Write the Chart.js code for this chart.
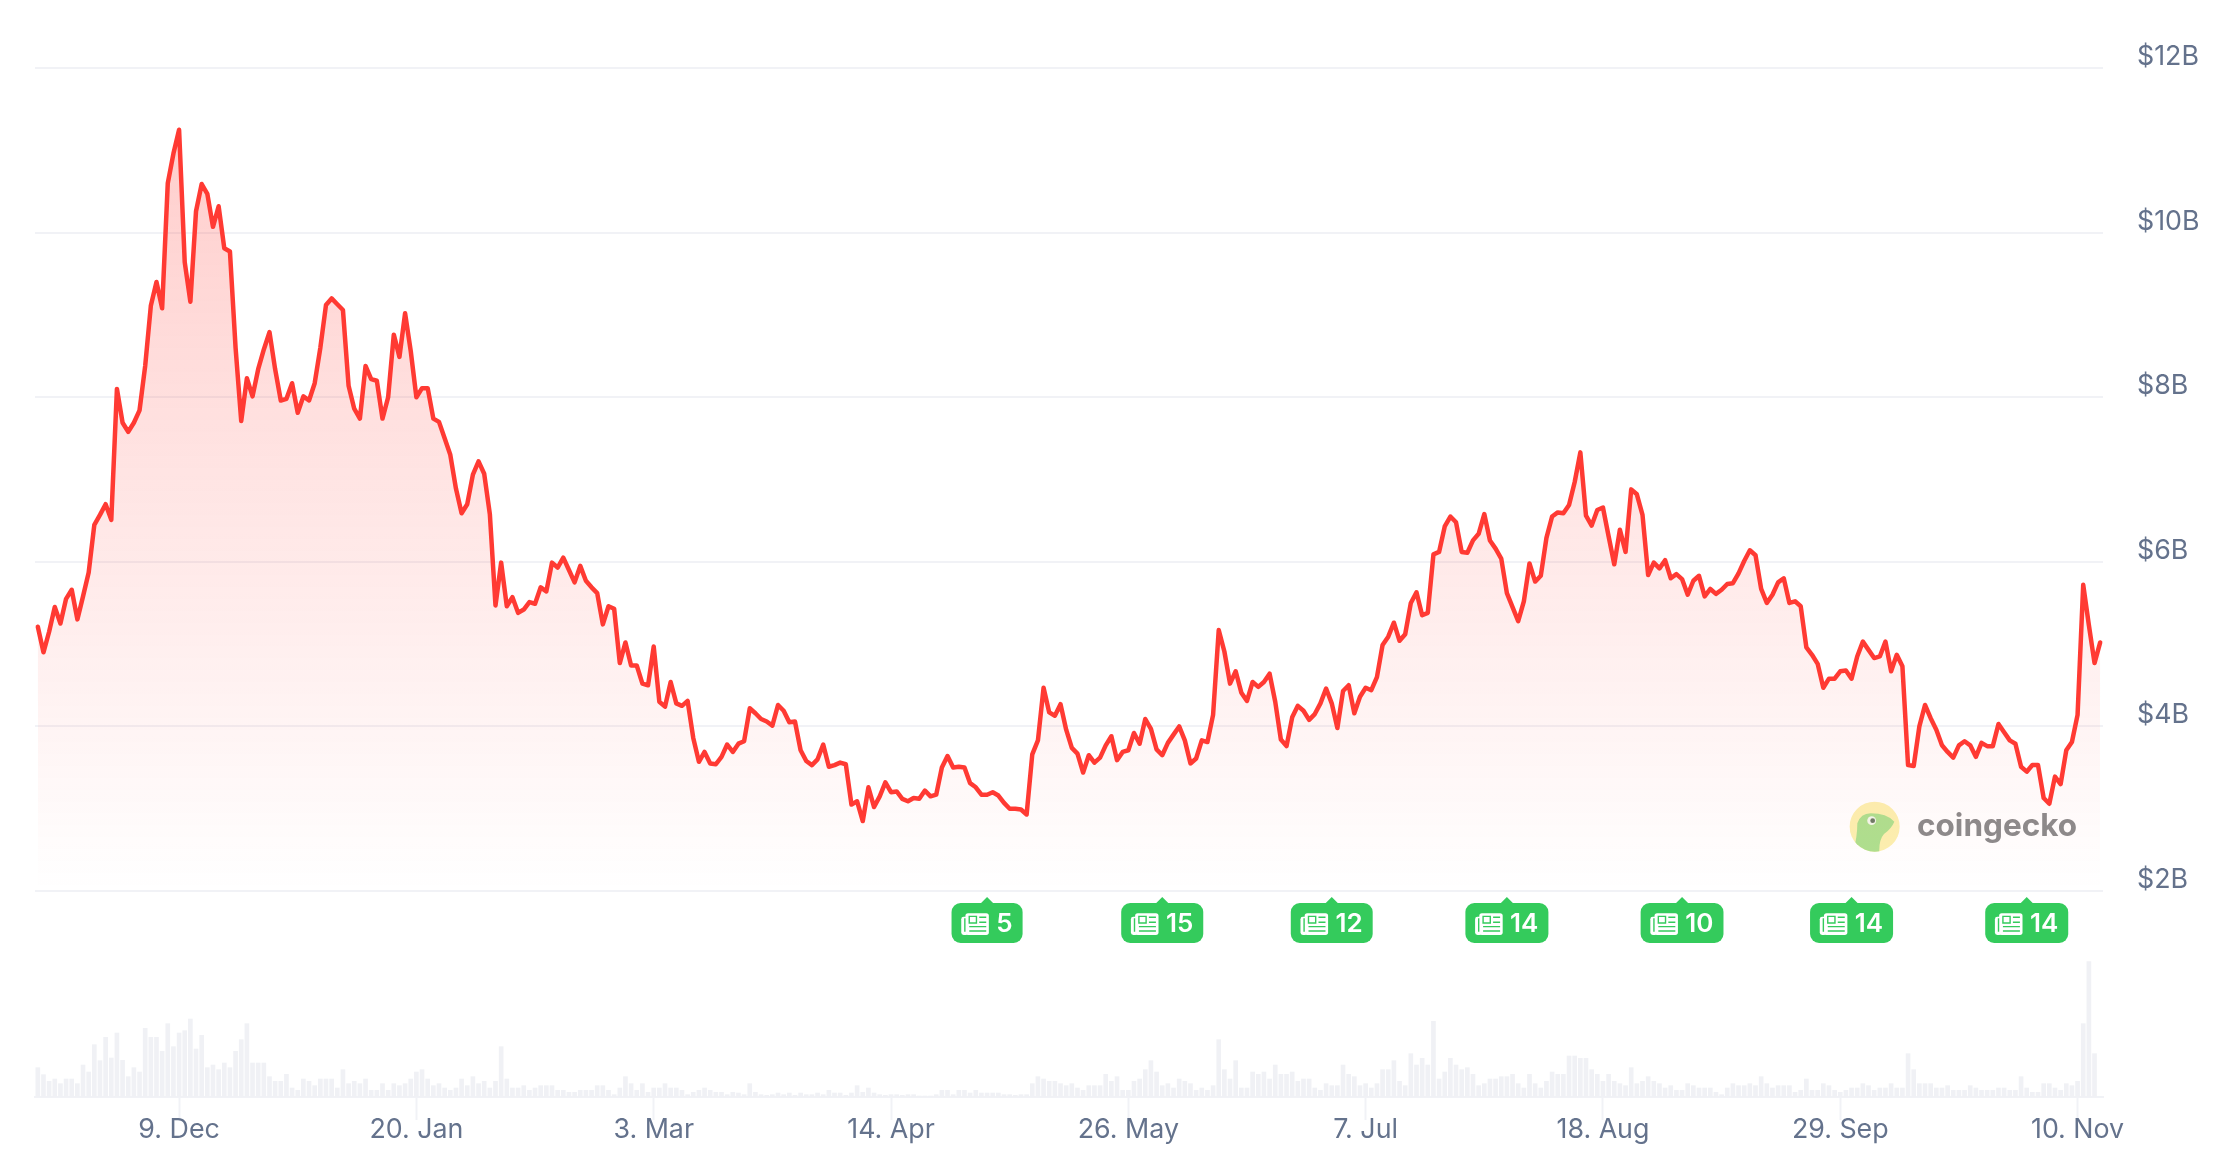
<!DOCTYPE html>
<html><head><meta charset="utf-8">
<script src="https://cdn.jsdelivr.net/npm/chart.js@4"></script>
<style>html,body{margin:0;padding:0;background:#fff}canvas{display:block}</style>
</head><body><canvas id="c" width="2214" height="1166"></canvas>
<script>
// daily price-side series, $B
const priceValues = [
5.21,4.90,5.15,5.45,5.25,5.55,5.66,5.30,5.58,5.87,6.45,6.57,6.70,6.51,8.10,7.69,7.58,7.69,7.84,8.38,
9.11,9.40,9.08,10.60,10.96,11.25,9.64,9.16,10.26,10.59,10.47,10.07,10.32,9.81,9.77,8.60,7.71,8.23,8.01,8.34,
8.58,8.79,8.34,7.96,7.98,8.17,7.81,8.01,7.96,8.17,8.60,9.12,9.20,9.13,9.06,8.14,7.86,7.74,8.38,8.22,
8.20,7.74,8.00,8.76,8.49,9.02,8.56,8.00,8.11,8.11,7.74,7.70,7.50,7.30,6.89,6.59,6.70,7.06,7.22,7.07,
6.58,5.47,5.99,5.46,5.57,5.38,5.42,5.51,5.49,5.69,5.64,5.99,5.93,6.05,5.90,5.75,5.95,5.77,5.69,5.62,
5.24,5.46,5.43,4.77,5.02,4.74,4.74,4.52,4.50,4.97,4.30,4.24,4.54,4.28,4.25,4.31,3.86,3.57,3.69,3.55,
3.54,3.63,3.78,3.69,3.79,3.82,4.22,4.16,4.09,4.06,4.01,4.26,4.19,4.05,4.06,3.71,3.58,3.53,3.60,3.78,
3.51,3.53,3.56,3.54,3.05,3.09,2.85,3.26,3.02,3.15,3.32,3.20,3.21,3.12,3.09,3.13,3.12,3.22,3.15,3.17,
3.50,3.64,3.50,3.51,3.50,3.31,3.26,3.17,3.17,3.20,3.16,3.07,3.00,3.00,2.99,2.93,3.66,3.83,4.47,4.17,
4.13,4.27,3.96,3.74,3.67,3.44,3.65,3.56,3.62,3.77,3.88,3.59,3.69,3.71,3.92,3.79,4.09,3.97,3.72,3.65,
3.80,3.90,4.00,3.83,3.55,3.61,3.83,3.81,4.14,5.17,4.91,4.52,4.67,4.41,4.31,4.54,4.48,4.54,4.64,4.30,
3.84,3.76,4.11,4.25,4.19,4.08,4.15,4.28,4.46,4.28,3.98,4.43,4.50,4.16,4.36,4.47,4.44,4.60,4.99,5.09,
5.26,5.04,5.12,5.50,5.63,5.35,5.38,6.09,6.12,6.43,6.55,6.48,6.12,6.11,6.26,6.34,6.58,6.26,6.16,6.04,
5.62,5.45,5.28,5.52,5.98,5.76,5.83,6.29,6.55,6.60,6.59,6.69,6.97,7.33,6.56,6.44,6.63,6.66,6.31,5.97,
6.39,6.12,6.88,6.82,6.57,5.84,5.99,5.92,6.02,5.80,5.85,5.79,5.60,5.77,5.83,5.58,5.67,5.61,5.66,5.73,
5.74,5.86,6.01,6.14,6.08,5.67,5.50,5.60,5.75,5.80,5.50,5.52,5.46,4.96,4.87,4.76,4.47,4.58,4.58,4.67,
4.68,4.58,4.85,5.03,4.93,4.83,4.85,5.03,4.67,4.87,4.73,3.53,3.52,4.00,4.26,4.10,3.96,3.77,3.69,3.62,
3.77,3.82,3.77,3.63,3.80,3.76,3.76,4.03,3.93,3.83,3.79,3.51,3.45,3.53,3.53,3.13,3.06,3.39,3.30,3.71,
3.81,4.14,5.72,5.23,4.77,5.02];
// daily traded volume
const volumeValues = [
88,67,47,54,40,54,54,40,96,75,157,109,179,117,192,110,61,88,75,206,179,179,137,220,151,192,199,234,144,185,
88,96,82,102,88,137,172,220,102,102,102,61,47,47,68,27,20,54,47,34,54,54,54,27,82,40,47,40,54,20,
20,40,20,40,34,40,54,75,82,54,34,40,27,20,27,54,34,61,40,47,27,47,151,54,27,27,34,20,27,34,
34,34,20,20,14,14,20,20,20,34,34,20,7,27,61,40,20,40,14,27,27,40,27,27,20,7,14,20,27,20,
14,14,7,14,12,
7,40,14,7,5,7,12,7,12,5,12,7,7,12,7,20,12,12,5,12,34,14,27,12,7,5,7,7,5,7,
7,3,3,3,7,20,20,7,20,20,12,20,12,12,12,12,7,7,5,7,7,40,61,54,47,47,40,34,40,27,
20,34,34,34,68,47,61,20,20,47,54,82,109,75,34,40,27,54,47,40,20,27,20,34,172,82,54,109,27,27,
75,68,75,54,96,68,68,75,47,54,54,27,20,40,34,34,96,68,61,34,40,27,40,82,82,109,47,34,130,96,
116,96,227,54,75,116,96,82,88,68,
34,
40,54,54,61,61,68,40,27,68,40,27,47,75,68,68,123,123,116,116,82,68,47,68,47,40,34,88,40,47,61,
47,40,27,34,20,20,40,34,27,27,27,14,7,27,40,34,34,40,34,61,40,27,34,34,34,14,20,54,20,20,
40,34,20,14,20,27,27,40,34,20,27,27,40,27,27,130,82,40,40,40,27,27,34,20,20,20,34,27,20,20,
20,27,27,20,20,61,27,14,14,40,40,27,20,40,34,47,220,406,130,0];
const tickLabels = ["9. Dec","20. Jan","3. Mar","14. Apr","26. May","7. Jul","18. Aug","29. Sep","10. Nov"];
const yTickValues = [2,4,6,8,10,12];
const newsDates = ["1. May","1. Jun","1. Jul","1. Aug","1. Sep","1. Oct","1. Nov"];
const newsCounts = [5,15,12,14,10,14,14];
const monthNames = ["Jan","Feb","Mar","Apr","May","Jun","Jul","Aug","Sep","Oct","Nov","Dec"];
const categories = priceValues.map((_, i) => {
  const d = new Date(Date.UTC(2024, 10, 14 + i));
  return d.getUTCDate() + ". " + monthNames[d.getUTCMonth()];
});

const FONT = 'Inter, "Liberation Sans", sans-serif';
const TEXT = '#64728c', RULE = '#f1f2f6', VOLBAR = '#f0f1f5', RED = '#ff3a33', GREEN = '#34cb5c';
const Y_MIN = -0.503, VOL_MAX = 3087;

function newsIcon(ctx, x, y) {
  ctx.fillStyle = '#fff';
  ctx.beginPath(); ctx.roundRect(x + 4.2, y, 23.4, 21.7, 2.6); ctx.fill();
  ctx.beginPath(); ctx.roundRect(x, y + 3.6, 7, 18.1, 2.4); ctx.fill();
  ctx.strokeStyle = GREEN; ctx.lineWidth = 1.4;
  ctx.beginPath();
  ctx.moveTo(x + 3.6, y + 5); ctx.lineTo(x + 3.6, y + 18.5);
  ctx.rect(x + 8, y + 3.2, 7.2, 6.6);
  ctx.moveTo(x + 18, y + 4); ctx.lineTo(x + 25, y + 4);
  ctx.moveTo(x + 18, y + 9); ctx.lineTo(x + 25, y + 9);
  ctx.moveTo(x + 8, y + 13.4); ctx.lineTo(x + 25, y + 13.4);
  ctx.moveTo(x + 8, y + 17.8); ctx.lineTo(x + 25, y + 17.8);
  ctx.stroke();
}

const newsBadges = {
  id: 'newsBadges',
  afterDraw(chart) {
    const { ctx, scales: { x } } = chart;
    const top = 903, h = 40;
    ctx.save();
    ctx.font = '600 26px ' + FONT;
    ctx.textBaseline = 'middle';
    newsDates.forEach((date, k) => {
      const cx = x.getPixelForValue(categories.indexOf(date));
      const label = String(newsCounts[k]);
      const tw = ctx.measureText(label).width;
      const w = 9.7 + 27.6 + 7.4 + tw + 10;
      const left = cx - w / 2;
      ctx.fillStyle = GREEN;
      ctx.beginPath(); ctx.roundRect(left, top, w, h, 9); ctx.fill();
      ctx.beginPath(); ctx.moveTo(cx - 7, top + 1); ctx.lineTo(cx, top - 6); ctx.lineTo(cx + 7, top + 1); ctx.closePath(); ctx.fill();
      newsIcon(ctx, left + 9.7, top + 10.2);
      ctx.fillStyle = '#fff';
      ctx.fillText(label, left + 9.7 + 27.6 + 7.4, top + h / 2 + 1);
    });
    ctx.restore();
  }
};

const watermark = {
  id: 'watermark',
  beforeDatasetsDraw(chart) {
    const { ctx } = chart;
    const ox = 1820, oy = 780, s = 1 / 3;
    const X = v => ox + v * s, Y = v => oy + v * s;
    ctx.save();
    ctx.beginPath(); ctx.arc(X(164), Y(140), 25, 0, Math.PI * 2); ctx.closePath();
    ctx.fillStyle = '#fcf0b0'; ctx.fill(); ctx.clip();
    ctx.fillStyle = '#aee08f';
    ctx.beginPath();
    ctx.moveTo(X(100), Y(214));
    ctx.quadraticCurveTo(X(112), Y(170), X(112), Y(130));
    ctx.quadraticCurveTo(X(122), Y(100), X(152), Y(100));
    ctx.quadraticCurveTo(X(200), Y(100), X(223), Y(125));
    ctx.quadraticCurveTo(X(215), Y(145), X(192), Y(162));
    ctx.quadraticCurveTo(X(176), Y(180), X(178), Y(220));
    ctx.closePath(); ctx.fill();
    ctx.fillStyle = '#f4f7ec';
    ctx.beginPath(); ctx.arc(X(155), Y(122), 4.4, 0, Math.PI * 2); ctx.fill();
    ctx.fillStyle = '#6d7a66';
    ctx.beginPath(); ctx.arc(X(158), Y(122), 2.4, 0, Math.PI * 2); ctx.fill();
    ctx.restore();
    ctx.save();
    ctx.fillStyle = '#8b8b8c';
    ctx.font = '700 31.5px ' + FONT;
    ctx.textBaseline = 'alphabetic';
    ctx.fillText('coingecko', 1917, 836);
    ctx.restore();
  }
};

const fillGradient = (context) => {
  const { chart } = context;
  const y = chart.scales.y;
  const fallback = 'rgba(255,58,51,0.1)';
  if (!chart.chartArea || !y) return fallback;
  const a = y.getPixelForValue(12), b = y.getPixelForValue(2);
  if (!isFinite(a) || !isFinite(b)) return fallback;
  const g = chart.ctx.createLinearGradient(0, a, 0, b);
  g.addColorStop(0, 'rgba(255,58,51,0.27)');
  g.addColorStop(1, 'rgba(255,58,51,0)');
  return g;
};

new Chart(document.getElementById('c'), {
  data: {
    labels: categories,
    datasets: [
      { type: 'line', label: 'Price', data: priceValues, yAxisID: 'y', order: 0,
        borderColor: RED, borderWidth: 4.5, borderJoinStyle: 'round', borderCapStyle: 'round',
        pointRadius: 0, tension: 0, fill: { target: { value: 2 } }, backgroundColor: fillGradient, clip: false },
      { type: 'bar', label: 'Volume', data: volumeValues, yAxisID: 'v', order: 1,
        backgroundColor: VOLBAR, barThickness: 4, borderWidth: 0 }
    ]
  },
  options: {
    responsive: false, animation: false, devicePixelRatio: 1,
    layout: { padding: { left: 35, top: 68, right: 0, bottom: 0 } },
    plugins: { legend: { display: false }, tooltip: { enabled: false } },
    scales: {
      x: {
        type: 'category', offset: true,
        afterFit(s) { s.height = 69; },
        afterBuildTicks(s) { s.ticks = s.ticks.filter(t => tickLabels.includes(categories[t.value])); },
        grid: { offset: false, drawOnChartArea: false, drawTicks: true, tickLength: 23, tickWidth: 2, tickColor: RULE },
        border: { display: true, color: RULE, width: 2 },
        ticks: { autoSkip: false, maxRotation: 0, minRotation: 0, padding: -6, color: TEXT, font: { family: FONT, size: 26.8 } }
      },
      y: {
        position: 'right', min: Y_MIN, max: 12,
        afterFit(s) { s.width = 111; },
        afterBuildTicks(s) { s.ticks = yTickValues.map(v => ({ value: v })); },
        grid: { color: RULE, lineWidth: 2, drawTicks: false },
        border: { display: false },
        ticks: { padding: 34, labelOffset: -11, color: TEXT, font: { family: FONT, size: 26.8 },
                 callback: v => '$' + v + 'B' }
      },
      v: { display: false, min: 0, max: VOL_MAX }
    }
  },
  plugins: [watermark, newsBadges]
});
</script>
</body></html>
